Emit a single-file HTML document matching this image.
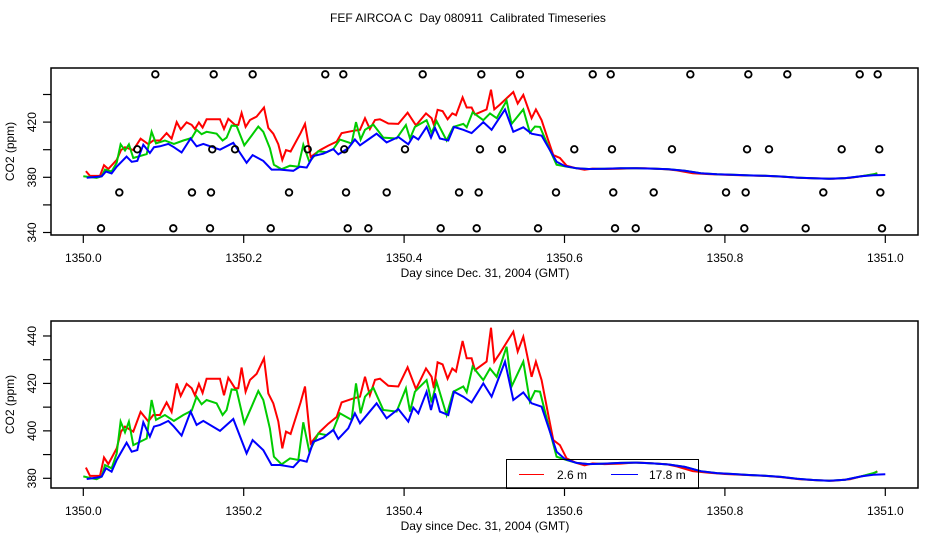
<!DOCTYPE html>
<html><head><meta charset="utf-8"><style>
html,body{margin:0;padding:0;background:#fff;}
svg{display:block;font-family:"Liberation Sans",sans-serif;}
</style></head><body>
<svg id="chart" width="936" height="540" viewBox="0 0 936 540" xmlns="http://www.w3.org/2000/svg">
<text x="468" y="22" font-size="12" text-anchor="middle" style="white-space:pre" xml:space="preserve">FEF AIRCOA C  Day 080911  Calibrated Timeseries</text>
<g id="top"></g>
<g id="bot"></g>
</svg>
<script>
const redT=[0.0033,0.0083,0.0208,0.0258,0.0312,0.0416,0.0470,0.0520,0.0623,0.0715,0.0810,0.0873,0.0956,0.1039,0.1101,0.1164,0.1214,0.1288,0.1351,0.1392,0.1442,0.1488,0.1538,0.1704,0.1754,0.1808,0.1891,0.1933,0.1974,0.2024,0.2078,0.2161,0.2253,0.2307,0.2369,0.2431,0.2481,0.2527,0.2585,0.2710,0.2764,0.2835,0.2951,0.3055,0.3159,0.3221,0.3367,0.3450,0.3512,0.3574,0.3637,0.3699,0.3803,0.3928,0.4044,0.4148,0.4273,0.4343,0.4372,0.4418,0.4480,0.4543,0.4601,0.4647,0.4730,0.4780,0.4842,0.4884,0.5029,0.5083,0.5125,0.5195,0.5362,0.5416,0.5486,0.5590,0.5644,0.5715,0.5798,0.5860,0.5943,0.6026,0.615,0.625,0.635,0.65,0.67,0.686,0.70,0.727,0.74,0.76,0.78,0.80,0.82,0.85,0.87,0.893,0.915,0.935,0.956,0.97,0.985,0.99];
const redV=[384.5,381,381,388.8,386,392.6,399.7,401.8,399.7,408,404,406.7,406.7,412,408,420,414.7,419.8,418,415,419.8,416,422,422,415,422.4,418,418,426.7,416.5,421.5,424,430.6,415.8,411.6,404,392.6,399.7,398.7,412,418.7,394.7,399.7,403,405.9,412,413.7,414.4,422.8,415,421.5,422,419,418.7,426.8,417.6,426.3,422.8,418,428.9,428,422,426.3,425,437.9,430.6,430.6,425.6,429.2,443.5,429.2,432.7,441.8,433.4,439.7,422.8,429.2,421.4,406.7,396.1,394,388.4,386.5,385.5,386.3,386,386.2,386.6,386.5,385.9,385,383,382.3,381.8,381.5,381,380.5,379.6,379.2,379,379.6,380.8,382,383];
const greenT=[0.0000,0.0104,0.0166,0.0229,0.0270,0.0353,0.0416,0.0465,0.0520,0.0569,0.0623,0.0790,0.0852,0.0906,0.1018,0.1130,0.1247,0.1351,0.1413,0.1475,0.1538,0.1662,0.1737,0.1787,0.1849,0.1912,0.2007,0.2099,0.2182,0.2244,0.2327,0.2377,0.2473,0.2577,0.2681,0.2743,0.2818,0.2930,0.3034,0.3117,0.3200,0.3346,0.3400,0.3458,0.3512,0.3616,0.3741,0.3907,0.4023,0.4073,0.4135,0.4281,0.4343,0.4405,0.4530,0.4613,0.4738,0.4780,0.4854,0.4988,0.5071,0.5154,0.5278,0.5341,0.5486,0.5569,0.5632,0.5694,0.5798,0.5902,0.6026,0.615,0.63,0.65,0.67,0.69,0.71,0.73,0.75,0.77,0.79,0.81,0.83,0.85,0.87,0.89,0.91,0.93,0.95,0.97,0.985,0.99];
const greenV=[380.8,380,379.6,380.7,385.6,384.2,390.5,403.9,399.4,403.9,394,396.8,413,404.6,406.7,404.2,406.7,408.5,414.4,411.2,413,411.6,406.7,408.8,417.5,417.2,403.2,410.2,416.8,413,401,389.1,385.9,388.4,387.7,403.6,391.2,398.9,398.2,400.4,407.4,404.6,420,407.4,414.4,418.2,408.8,408.1,417.9,408.1,416.5,421.4,412,420.7,406.7,416.5,418.7,416.3,427.1,421.4,426.3,422.8,435.5,418.7,429.2,412.3,416.8,416.5,402.5,389.1,387.7,386.5,386,386.2,386.5,386.6,386.3,385.8,384.8,383,382.2,381.8,381.4,381.1,380.6,379.8,379.3,379,379.4,380.8,382.2,382.8];
const blueT=[0.0042,0.0166,0.0229,0.0283,0.0353,0.0416,0.0540,0.0603,0.0673,0.0748,0.0831,0.0881,0.0956,0.1060,0.1130,0.1226,0.1338,0.1413,0.1496,0.1704,0.1870,0.2036,0.2111,0.2244,0.2348,0.2452,0.2618,0.2701,0.2785,0.2868,0.2992,0.3117,0.3180,0.3304,0.3387,0.3450,0.3554,0.3657,0.3782,0.3928,0.4052,0.4115,0.4177,0.4281,0.4335,0.4385,0.4447,0.4551,0.4622,0.4738,0.4842,0.4988,0.5091,0.5258,0.5362,0.5486,0.5590,0.5715,0.5902,0.6006,0.615,0.63,0.65,0.67,0.69,0.71,0.73,0.75,0.77,0.79,0.81,0.83,0.85,0.87,0.89,0.91,0.93,0.95,0.97,0.985,1.0];
const blueV=[379.7,380.3,380.7,384.2,382.8,387.7,395,391.2,391.9,403.6,397.6,401.8,402.5,404.2,401.8,398,408.1,402.5,404.2,400,405,390.5,396.1,391.9,385.6,385.6,384.7,387.7,387,395.4,397.1,400.4,396.6,401.1,407.4,403.2,407.4,411.6,405.3,409.2,403.9,409.8,407.4,416.5,408.8,415.8,408.1,406.7,416.5,414.4,412,420,414.4,429.2,413,416.2,411.6,410.2,391.2,388.1,386.5,386,386.2,386.5,386.6,386.3,385.8,384.8,383,382.2,381.8,381.4,381.1,380.6,379.8,379.3,379,379.4,380.8,381.5,381.7];
const markRows=[454.6,400.3,369,343];
const markT=[
 [0.0898,0.1626,0.2112,0.3017,0.3242,0.4232,0.4963,0.5445,0.6352,0.6576,0.7569,0.8292,0.8778,0.9681,0.9905],
 [0.0673,0.1608,0.1892,0.2798,0.3254,0.4011,0.4946,0.5221,0.6122,0.6592,0.7340,0.8276,0.8550,0.9456,0.9925],
 [0.0449,0.1355,0.1592,0.2565,0.3276,0.3783,0.4685,0.4930,0.5894,0.6608,0.7112,0.8014,0.8259,0.9227,0.9938],
 [0.0221,0.1122,0.1580,0.2337,0.3297,0.3554,0.4456,0.4905,0.5670,0.6630,0.6888,0.7793,0.8242,0.9007,0.9959]];
const xTicks=[0,0.2,0.4,0.6,0.8,1.0];
const xTickLabels=["1350.0","1350.2","1350.4","1350.6","1350.8","1351.0"];
const topYTicks=[340,360,380,400,420,440];
const topYLabels={340:"340",380:"380",420:"420"};
const botYTicks=[380,390,400,410,420,430,440];
const botYLabels={380:"380",400:"400",420:"420",440:"440"};

const NS="http://www.w3.org/2000/svg";
function mk(p,tag,attrs){const e=document.createElementNS(NS,tag);for(const k in attrs)e.setAttribute(k,attrs[k]);p.appendChild(e);return e;}
const xS=d=>83.3+802*d;

function panel(g,box,y0,v0,scale,yTicks,yLabels,withMarks,withLegend){
  const yS=v=>y0-(v-v0)*scale;
  const clipId='clip'+box.y;
  const defs=mk(g,'defs',{});
  const cp=mk(defs,'clipPath',{id:clipId});
  mk(cp,'rect',{x:box.x,y:box.y,width:box.w,height:box.h});
  const frame=mk(g,'rect',{x:box.x,y:box.y,width:box.w,height:box.h,fill:'none',stroke:'#000','stroke-width':1.5});
  
  
  xTicks.forEach((t,i)=>{
    const x=xS(t);
    const tk=mk(g,'line',{x1:x,x2:x,y1:box.y+box.h,y2:box.y+box.h+8,stroke:'#000','stroke-width':1.2});
    
    
    const lb=mk(g,'text',{x:x,y:box.y+box.h+27,'font-size':12,'text-anchor':'middle'});
    lb.textContent=xTickLabels[i];
    
    
  });
  yTicks.forEach(v=>{
    const y=yS(v);
    const tk=mk(g,'line',{x1:box.x-8,x2:box.x,y1:y,y2:y,stroke:'#000','stroke-width':1.2});
    
    
    if(yLabels[v]){
      const lb=mk(g,'text',{x:0,y:0,'font-size':12,'text-anchor':'middle',transform:`translate(36,${y}) rotate(-90)`});
      lb.textContent=yLabels[v];
      
      
    }
  });
  const cy=box.y+box.h/2;
  const yl=mk(g,'text',{x:0,y:0,'font-size':12,'text-anchor':'middle',transform:`translate(14,${cy}) rotate(-90)`});
  yl.textContent='CO2 (ppm)';
  
  
  const xl=mk(g,'text',{x:485,y:box.y+box.h+42,'font-size':12,'text-anchor':'middle'});
  xl.textContent='Day since Dec. 31, 2004 (GMT)';
  
  
  const data=g.appendChild(document.createElementNS(NS,'g'));
  data.setAttribute('clip-path',`url(#${clipId})`);
  [[redT,redV,'#ff0000','red-series-line'],[greenT,greenV,'#00cc00','green-series-line'],[blueT,blueV,'#0000ff','blue-series-line']].forEach(s=>{
    const pts=s[0].map((t,i)=>xS(t).toFixed(1)+','+yS(s[1][i]).toFixed(1)).join(' ');
    const pl=mk(data,'polyline',{points:pts,fill:'none',stroke:s[2],'stroke-width':2,'stroke-linejoin':'miter'});
    
    
  });
  if(withMarks){
    markRows.forEach((v,r)=>{
      markT[r].forEach(t=>{
        const c=mk(data,'circle',{cx:xS(t),cy:yS(v),r:3.3,fill:'none',stroke:'#000','stroke-width':1.8});
        
        
      });
    });
  }
  if(withLegend){
    const lg=mk(g,'g',{});
    
    
    mk(lg,'rect',{x:506.5,y:459.5,width:192,height:29,fill:'none',stroke:'#000','stroke-width':1});
    const l1=mk(lg,'line',{x1:519,x2:544,y1:474.5,y2:474.5,stroke:'#ff0000','stroke-width':1});
    
    
    const t1=mk(lg,'text',{x:557,y:479,'font-size':12});t1.textContent='2.6 m';
    const l2=mk(lg,'line',{x1:611,x2:638,y1:474.5,y2:474.5,stroke:'#0000ff','stroke-width':1});
    
    
    const t2=mk(lg,'text',{x:649,y:479,'font-size':12});t2.textContent='17.8 m';
  }
}
panel(document.getElementById('top'),{x:51,y:68,w:867,h:167},177.3,380,1.38,topYTicks,topYLabels,true,false);
panel(document.getElementById('bot'),{x:51,y:321,w:867,h:167},478.3,380,2.372,botYTicks,botYLabels,false,true);
</script>
</body></html>
